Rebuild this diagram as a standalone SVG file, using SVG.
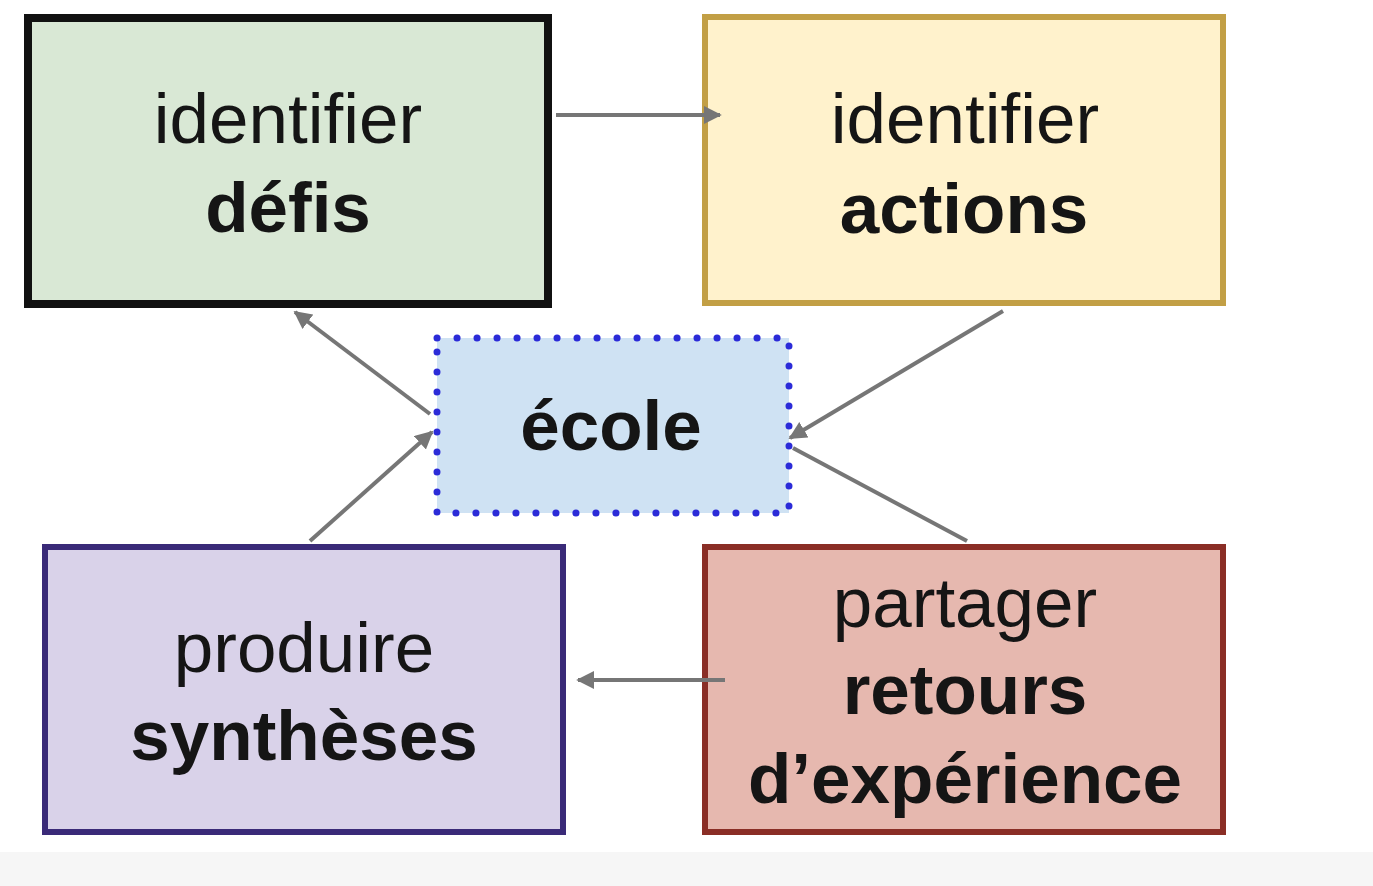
<svg xmlns="http://www.w3.org/2000/svg" width="1373" height="886" viewBox="0 0 1373 886">
<defs>
<style>
.t{font-family:"Liberation Sans",Arial,sans-serif;font-size:71px;fill:#151515;text-anchor:middle}
.b{font-weight:bold}
.c{stroke:#767676;stroke-width:4;fill:none}
</style>
<marker id="ah" viewBox="0 0 10 10" refX="9" refY="5" markerWidth="4.5" markerHeight="4.5" orient="auto" markerUnits="strokeWidth">
<path d="M0,0 L10,5 L0,10 z" fill="#767676"/>
</marker>
</defs>
<rect x="0" y="0" width="1373" height="886" fill="#ffffff"/>
<rect x="0" y="852" width="1373" height="34" fill="#f6f6f6"/>
<g id="n-defis">
<rect x="28" y="18" width="520" height="286" fill="#d9e8d5" stroke="#111" stroke-width="8"/>
<text class="t" x="288" y="143">identifier</text>
<text class="t b" x="288" y="232">défis</text>
</g>
<g id="n-actions">
<rect x="705" y="17" width="518" height="286" fill="#fff2cc" stroke="#c29f45" stroke-width="6"/>
<text class="t" x="965" y="143">identifier</text>
<text class="t b" x="964" y="233">actions</text>
</g>
<g id="n-ecole">
<rect x="437" y="338" width="352" height="175" fill="#cfe2f3" stroke="#2b2bd8" stroke-width="7" stroke-linecap="round" stroke-dasharray="0.1 19.9"/>
<text class="t b" x="611" y="450">école</text>
</g>
<g id="n-syntheses">
<rect x="45" y="547" width="518" height="285" fill="#d9d2e9" stroke="#3a2a78" stroke-width="6"/>
<text class="t" x="304" y="672">produire</text>
<text class="t b" x="304" y="760">synthèses</text>
</g>
<g id="n-retours">
<rect x="705" y="547" width="518" height="285" fill="#e6b8af" stroke="#8a2e26" stroke-width="6"/>
<text class="t" x="965" y="627">partager</text>
<text class="t b" x="965" y="714">retours</text>
<text class="t b" x="965" y="803">d’expérience</text>
</g>
<g id="connectors">
<line class="c" x1="556" y1="115" x2="720" y2="115" marker-end="url(#ah)"/>
<line class="c" x1="430" y1="414" x2="295" y2="312" marker-end="url(#ah)"/>
<line class="c" x1="1003" y1="311" x2="790" y2="438" marker-end="url(#ah)"/>
<line class="c" x1="310" y1="541" x2="432" y2="432" marker-end="url(#ah)"/>
<line class="c" x1="967" y1="541" x2="793" y2="448"/>
<line class="c" x1="725" y1="680" x2="578" y2="680" marker-end="url(#ah)"/>
</g>
</svg>
